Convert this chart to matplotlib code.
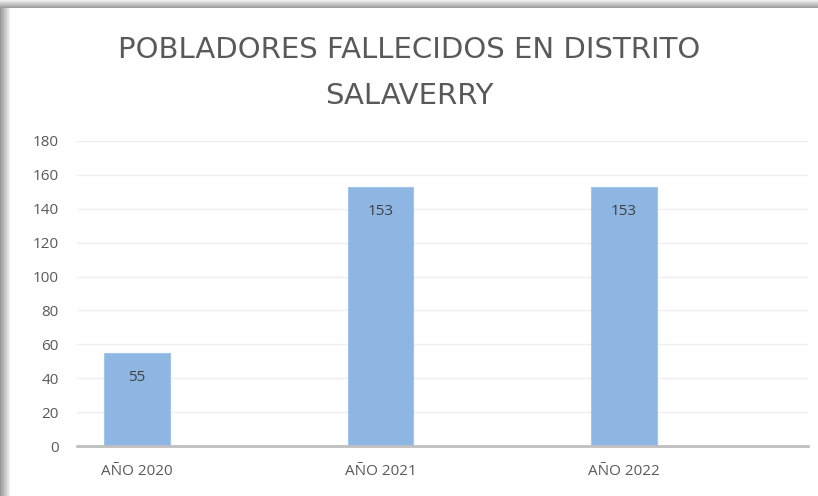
import matplotlib
matplotlib.use('Agg')
import matplotlib.pyplot as plt
from matplotlib.patches import Rectangle

# data
categories = ['AÑO 2020', 'AÑO 2021', 'AÑO 2022']
deaths = [55, 153, 153]
yticks = [0, 20, 40, 60, 80, 100, 120, 140, 160, 180]

W, H = 818, 496
fig = plt.figure(figsize=(W / 100, H / 100), dpi=100)
fig.patch.set_facecolor('white')

# soft shadow on top and left edge, like the pasted excel chart
for i in range(8):
    g = 0.62 + i * 0.045
    fig.add_artist(Rectangle((0, 1 - (8 - i) / H), 1, 1 / H, transform=fig.transFigure,
                             color=(g, g, g), lw=0))
for i in range(10):
    g = 0.60 + i * 0.038
    fig.add_artist(Rectangle((i / W, 0), 1 / W, 1 - 8 / H, transform=fig.transFigure,
                             color=(g, g, g), lw=0))

ax = fig.add_axes([77 / W, 50 / H, (808 - 77) / W, (446 - 141) / H])
x = list(range(len(categories)))
bars = ax.bar(x, deaths, width=0.27, color='#8db6e2', edgecolor='#a4c4ea', linewidth=0.8, zorder=2)

ax.set_xlim(-0.246, 2.756)
ax.set_ylim(0, 180)
ax.set_yticks(yticks)
ax.set_xticks(x)
ax.set_xticklabels(categories)
ax.grid(axis='y', color='#efefef', linewidth=1, zorder=0)
for s in ['top', 'right', 'left']:
    ax.spines[s].set_visible(False)
ax.spines['bottom'].set_color('#bfbfbf')
ax.spines['bottom'].set_linewidth(2)
ax.tick_params(axis='both', length=0, colors='#595959', labelsize=11)
ax.tick_params(axis='y', pad=13)
ax.tick_params(axis='x', pad=13)
for lab in ax.get_xticklabels() + ax.get_yticklabels():
    lab.set_fontfamily('Open Sans')

for b, v in zip(bars, deaths):
    ax.annotate(str(v), (b.get_x() + b.get_width() / 2, v), xytext=(0, -18),
                textcoords='offset points', ha='center', va='center',
                fontsize=11, color='#404040', family='Open Sans')

fig.text(0.5, 1 - 50 / H, 'POBLADORES FALLECIDOS EN DISTRITO', ha='center', va='center',
         fontsize=21, color='#595959')
fig.text(0.5, 1 - 96 / H, 'SALAVERRY', ha='center', va='center',
         fontsize=21, color='#595959')

fig.savefig('out.png', dpi=100)
